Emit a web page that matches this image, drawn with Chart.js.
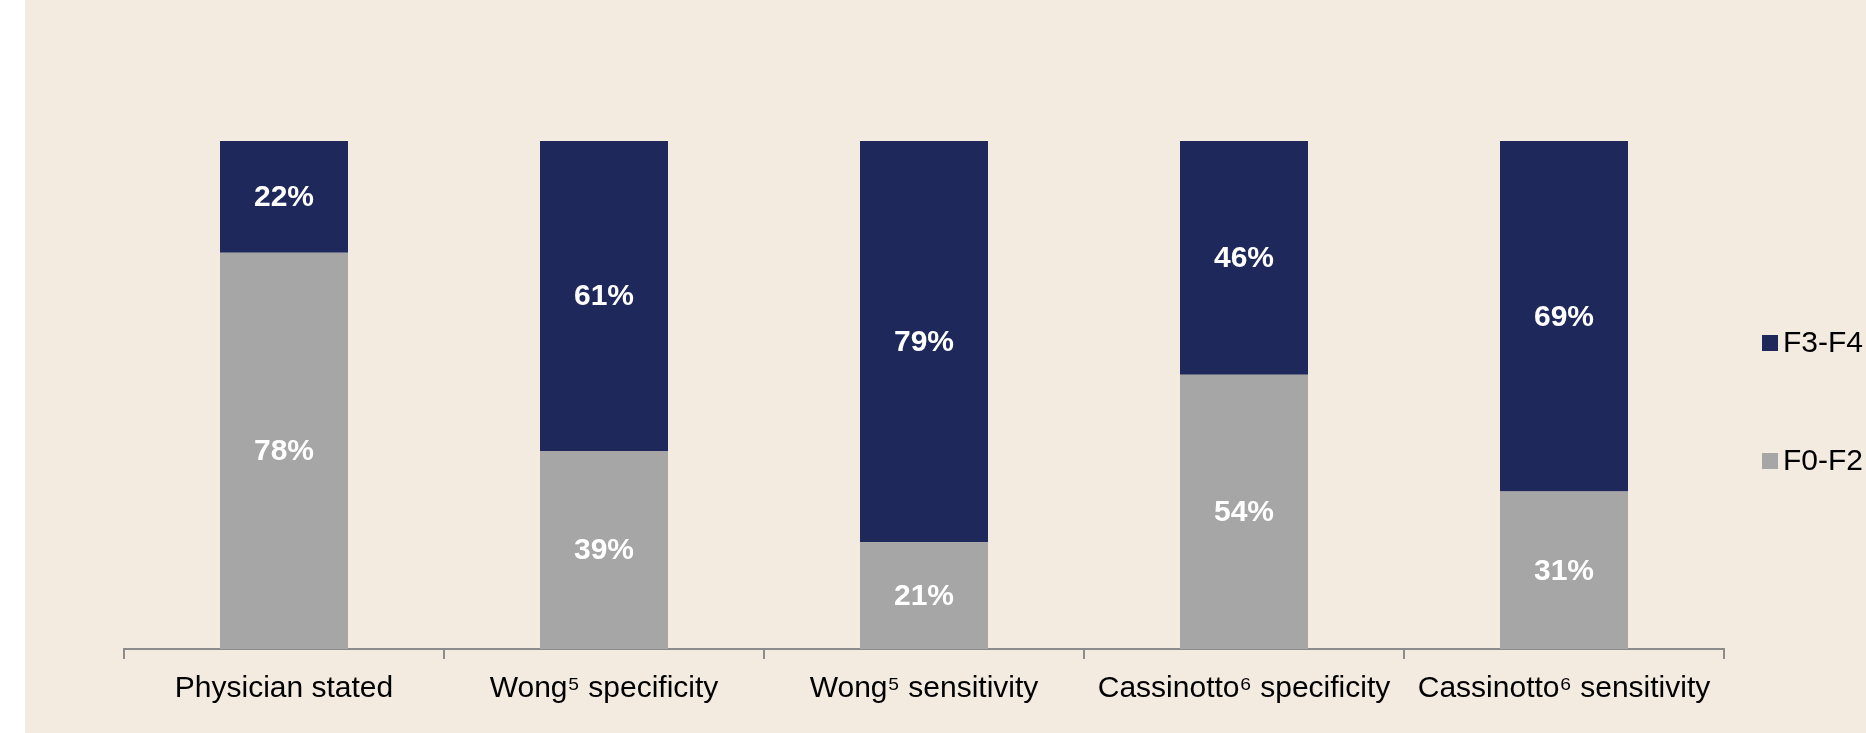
<!DOCTYPE html>
<html>
<head>
<meta charset="utf-8">
<script src="https://cdn.jsdelivr.net/npm/chart.js@4/dist/chart.umd.min.js"></script>
<style>
  html, body { margin: 0; padding: 0; background: #ffffff; }
  #wrap { position: absolute; left: 25px; top: 0; width: 1841px; height: 733px; background: #f3ebdf; }
  canvas { display: block; }
</style>
</head>
<body>
<div id="wrap"><canvas id="chart" width="1841" height="733"></canvas></div>
<script>
// categories and series
const categories = ['Physician stated', 'Wong\u2075 specificity', 'Wong\u2075 sensitivity', 'Cassinotto\u2076 specificity', 'Cassinotto\u2076 sensitivity'];
const f0f2 = [78, 39, 21, 54, 31];
const f3f4 = [22, 61, 79, 46, 69];

const NAVY = '#1e285b';
const GREY = '#a6a6a6';
const FONT = "'Liberation Sans', Arial, sans-serif";

// white % labels centred inside each stacked segment
const segmentLabels = {
  id: 'segmentLabels',
  afterDatasetsDraw(chart) {
    const ctx = chart.ctx;
    ctx.save();
    ctx.fillStyle = '#ffffff';
    ctx.font = 'bold 30px ' + FONT;
    ctx.textAlign = 'center';
    ctx.textBaseline = 'middle';
    chart.data.datasets.forEach((ds, i) => {
      const meta = chart.getDatasetMeta(i);
      meta.data.forEach((bar, j) => {
        const v = ds.data[j];
        if (!v) return;
        ctx.fillText(v + '%', bar.x, (bar.y + bar.base) / 2 + 1);
      });
    });
    ctx.restore();
  }
};

// legend on the right: F3-F4 above F0-F2, wide vertical gap like the original
const sideLegend = {
  id: 'sideLegend',
  afterDraw(chart, args, opts) {
    const ctx = chart.ctx;
    const area = chart.chartArea;
    const items = chart.data.datasets.slice().reverse();
    ctx.save();
    ctx.font = '30px ' + FONT;
    ctx.textBaseline = 'middle';
    ctx.textAlign = 'left';
    items.forEach((ds, k) => {
      const cx = area.right + opts.offsetX;
      const cy = area.top + opts.firstY + k * opts.gap;
      ctx.fillStyle = ds.backgroundColor;
      ctx.fillRect(cx, cy - opts.box / 2, opts.box, opts.box);
      ctx.fillStyle = '#000000';
      ctx.fillText(ds.label, cx + opts.box + 5, cy + 1);
    });
    ctx.restore();
  }
};

new Chart(document.getElementById('chart'), {
  type: 'bar',
  data: {
    labels: categories,
    datasets: [
      { label: 'F0-F2', data: f0f2, backgroundColor: GREY, barPercentage: 0.4, categoryPercentage: 1 },
      { label: 'F3-F4', data: f3f4, backgroundColor: NAVY, barPercentage: 0.4, categoryPercentage: 1 }
    ]
  },
  options: {
    responsive: false,
    devicePixelRatio: 1,
    animation: false,
    layout: { padding: { left: 99, right: 142, top: 141, bottom: 14 } },
    plugins: {
      legend: { display: false },
      tooltip: { enabled: false },
      sideLegend: { offsetX: 38, firstY: 202, gap: 118, box: 16 }
    },
    scales: {
      x: {
        stacked: true,
        grid: { display: true, drawOnChartArea: false, drawTicks: true, tickLength: 10, color: '#8c8c8c', lineWidth: 2 },
        border: { display: true, color: '#8c8c8c', width: 2 },
        ticks: { color: '#000000', padding: 12, maxRotation: 0, autoSkip: false, font: { family: FONT, size: 30 } }
      },
      y: {
        stacked: true,
        display: false,
        min: 0,
        max: 100
      }
    }
  },
  plugins: [segmentLabels, sideLegend]
});
</script>
</body>
</html>
